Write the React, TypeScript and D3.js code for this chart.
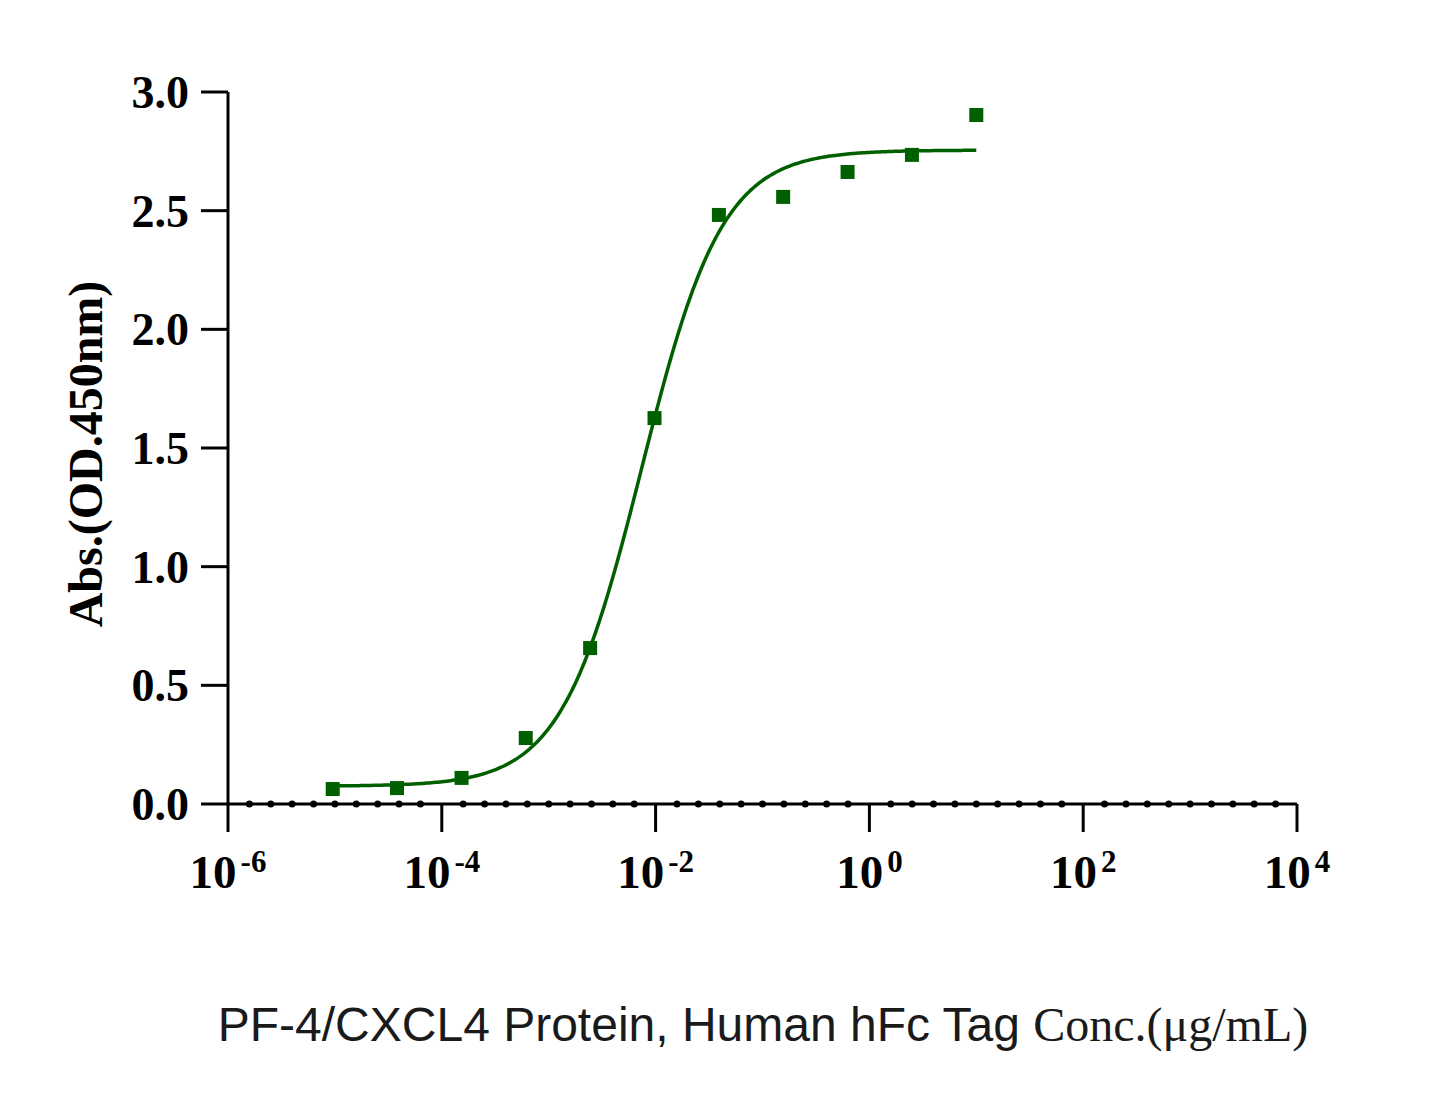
import React from "react";
import * as d3 from "d3";

// Data: 4-fold dilution series (µg/mL) and measured absorbance
const concentrations = [9.54e-6, 3.81e-5, 1.53e-4, 6.1e-4, 2.44e-3, 9.77e-3, 0.0391, 0.156, 0.625, 2.5, 10];
const absorbance = [0.063, 0.067, 0.11, 0.278, 0.657, 1.626, 2.482, 2.558, 2.663, 2.735, 2.903];

// 4PL fit parameters
const fitBottom = 0.075;
const fitTop = 2.755;
const fitLogEC50 = -2.13;
const fitHill = 1.15;

const yTicks = [0, 0.5, 1.0, 1.5, 2.0, 2.5, 3.0];
const xTickExps = [-6, -4, -2, 0, 2, 4];

const W = 1445;
const H = 1101;
const GREEN = "#006000";

export default function App() {
  const x = d3.scaleLog().domain([1e-6, 1e4]).range([228, 1297]);
  const y = d3.scaleLinear().domain([0, 3]).range([804, 92]);

  const fourPL = (c: number) =>
    fitBottom + (fitTop - fitBottom) / (1 + Math.pow(10, fitHill * (fitLogEC50 - Math.log10(c))));

  const xMin = d3.min(concentrations) as number;
  const xMax = d3.max(concentrations) as number;
  const curvePts: [number, number][] = d3
    .range(0, 301)
    .map((i) => {
      const lc = Math.log10(xMin) + ((Math.log10(xMax) - Math.log10(xMin)) * i) / 300;
      const c = Math.pow(10, lc);
      return [c, fourPL(c)];
    });
  const line = d3
    .line<[number, number]>()
    .x((d) => x(d[0]))
    .y((d) => y(d[1]))
    .curve(d3.curveLinear);

  // minor dots at 0.2-decade steps
  const minor = d3.range(0, 51).filter((k) => k % 10 !== 0).map((k) => Math.pow(10, -6 + k * 0.2));

  const serif = "'Liberation Serif', 'Times New Roman', serif";
  const sans = "'Liberation Sans', Arial, sans-serif";

  return (
    <svg width={W} height={H} style={{ position: "absolute", left: 0, top: 0, background: "#fff" }}>
      <rect x={0} y={0} width={W} height={H} fill="#fff" />
      {/* Y axis */}
      <line x1={228} x2={228} y1={y(3)} y2={y(0)} stroke="#000" strokeWidth={3} />
      {yTicks.map((t) => (
        <g key={t}>
          <line x1={201} x2={228} y1={y(t)} y2={y(t)} stroke="#000" strokeWidth={3} />
          <text
            x={189}
            y={y(t)}
            dy="0.35em"
            textAnchor="end"
            fontFamily={serif}
            fontWeight="bold"
            fontSize={46}
          >
            {t.toFixed(1)}
          </text>
        </g>
      ))}
      {/* X axis */}
      <line x1={x(1e-6)} x2={x(1e4)} y1={y(0)} y2={y(0)} stroke="#000" strokeWidth={3} />
      {minor.map((m, i) => (
        <circle key={i} cx={x(m)} cy={y(0)} r={3.5} fill="#000" />
      ))}
      {xTickExps.map((e) => (
        <g key={e}>
          <line x1={x(Math.pow(10, e))} x2={x(Math.pow(10, e))} y1={y(0)} y2={y(0) + 28} stroke="#000" strokeWidth={3} />
          <text
            x={x(Math.pow(10, e))}
            y={888}
            textAnchor="middle"
            fontFamily={serif}
            fontWeight="bold"
            fontSize={47}
          >
            <tspan>10</tspan>
            <tspan dx={4} dy={-16} fontSize={31}>
              {e < 0 ? `-${Math.abs(e)}` : `${e}`}
            </tspan>
          </text>
        </g>
      ))}
      {/* Fit curve */}
      <path d={line(curvePts) || ""} fill="none" stroke={GREEN} strokeWidth={3.5} />
      {/* Data points */}
      {concentrations.map((c, i) => (
        <rect key={i} x={x(c) - 7} y={y(absorbance[i]) - 7} width={14} height={14} fill={GREEN} />
      ))}
      {/* Y title */}
      <text
        transform={`translate(102, 454) rotate(-90)`}
        textAnchor="middle"
        fontFamily={serif}
        fontWeight="bold"
        fontSize={48}
      >
        Abs.(OD.450nm)
      </text>
      {/* X title */}
      <text x={763} y={1041} textAnchor="middle" fontSize={48} fill="#1a1a1a">
        <tspan fontFamily={sans}>PF-4/CXCL4 Protein, Human hFc Tag </tspan>
        <tspan fontFamily={serif}>Conc.(μg/mL)</tspan>
      </text>
    </svg>
  );
}
